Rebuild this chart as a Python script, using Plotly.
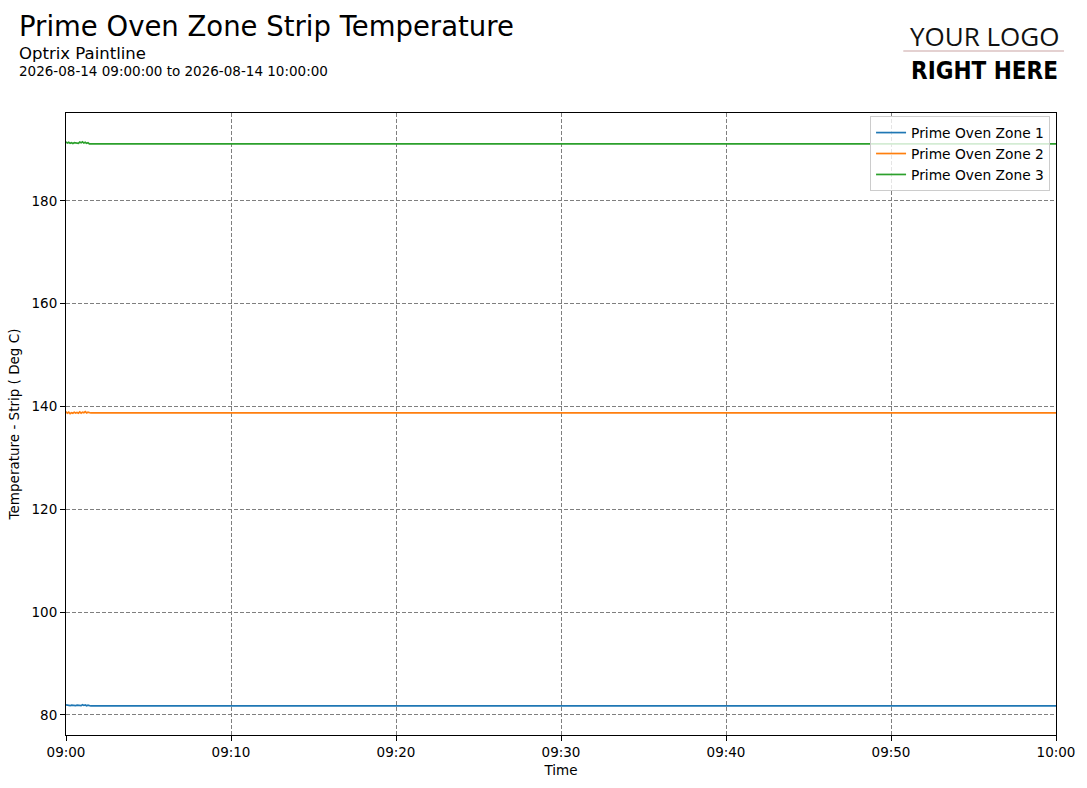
import plotly.graph_objects as go

# sample times (first minute and a half is noisy, then the signal holds flat)
times = ["2026-08-14 09:00:00", "2026-08-14 09:00:05", "2026-08-14 09:00:10",
         "2026-08-14 09:00:15", "2026-08-14 09:00:20", "2026-08-14 09:00:25",
         "2026-08-14 09:00:30", "2026-08-14 09:00:35", "2026-08-14 09:00:40",
         "2026-08-14 09:00:45", "2026-08-14 09:00:50", "2026-08-14 09:00:55",
         "2026-08-14 09:01:00", "2026-08-14 09:01:05", "2026-08-14 09:01:10",
         "2026-08-14 09:01:15", "2026-08-14 09:01:20", "2026-08-14 09:01:25",
         "2026-08-14 09:01:30", "2026-08-14 09:01:35", "2026-08-14 10:00:00"]

zone1 = [81.95, 81.85, 81.9, 81.8, 81.9, 81.85, 81.95, 81.8, 81.9, 81.85,
         81.9, 81.8, 82.0, 81.85, 81.95, 81.8, 81.9, 81.75, 81.75, 81.75, 81.75]
zone2 = [139.0, 138.7, 138.9, 138.6, 138.8, 138.7, 138.9, 138.75, 138.85, 138.7,
         138.95, 138.7, 138.9, 138.8, 139.0, 138.75, 138.9, 138.75, 138.75, 138.75, 138.75]
zone3 = [191.5, 191.25, 191.4, 191.2, 191.3, 191.15, 191.35, 191.25, 191.3, 191.2,
         191.45, 191.3, 191.5, 191.25, 191.4, 191.2, 191.3, 191.1, 191.1, 191.1, 191.1]

names = ["Prime Oven Zone 1", "Prime Oven Zone 2", "Prime Oven Zone 3"]
colors = ["#1f77b4", "#ff7f0e", "#2ca02c"]

W, H = 1087, 788
L, R, T, B = 66, 1058, 113, 735


def px(x):
    # screen x -> paper
    return (x - L) / (R - L)


def py(y):
    return (B - y) / (B - T)


fig = go.Figure()
for name, vals, c in zip(names, [zone1, zone2, zone3], colors):
    fig.add_trace(go.Scatter(x=times, y=vals, name=name, mode="lines",
                             line=dict(color=c, width=1.7)))

axis_common = dict(showline=True, linecolor="black", linewidth=1, mirror=True,
                   ticks="outside", ticklen=5, tickcolor="black",
                   showgrid=True, gridcolor="#7f7f7f", griddash="4px,2px", gridwidth=1,
                   zeroline=False, tickfont=dict(size=13.5, color="black"))

fig.update_xaxes(range=["2026-08-14 09:00:00", "2026-08-14 10:00:00"],
                 dtick=600000, tickformat="%H:%M",
                 title=dict(text="Time", font=dict(size=13.5, color="black"), standoff=6),
                 **axis_common)
fig.update_yaxes(range=[76.1, 197.1], dtick=20,
                 title=dict(text="Temperature - Strip ( Deg C)", font=dict(size=13.5, color="black"), standoff=8),
                 **axis_common)

fig.add_annotation(text="Prime Oven Zone Strip Temperature", x=px(17), y=py(26),
                   xref="paper", yref="paper", xanchor="left", yanchor="middle",
                   showarrow=False, font=dict(size=27.5, color="black"))
fig.add_annotation(text="Optrix Paintline", x=px(17), y=py(54),
                   xref="paper", yref="paper", xanchor="left", yanchor="middle",
                   showarrow=False, font=dict(size=16.5, color="black"))
fig.add_annotation(text="2026-08-14 09:00:00 to 2026-08-14 10:00:00", x=px(17), y=py(71),
                   xref="paper", yref="paper", xanchor="left", yanchor="middle",
                   showarrow=False, font=dict(size=13.5, color="black"))

# logo placeholder
fig.add_annotation(text="YOUR LOGO", x=px(986), y=py(36),
                   xref="paper", yref="paper", xanchor="center", yanchor="middle",
                   showarrow=False, font=dict(size=26, color="#111111", family="Open Sans"))
fig.add_annotation(text="<b>RIGHT HERE</b>", x=px(986), y=py(71),
                   xref="paper", yref="paper", xanchor="center", yanchor="middle",
                   showarrow=False,
                   font=dict(size=24, color="black",
                             family="DejaVu Sans Condensed, Liberation Sans Narrow, Roboto"))
fig.add_shape(type="line", xref="paper", yref="paper", x0=px(905), x1=px(1066),
              y0=py(51), y1=py(51), line=dict(color="#c9a3a3", width=1))

fig.update_layout(
    width=W, height=H,
    margin=dict(l=L, r=W - R, t=T, b=H - B),
    paper_bgcolor="white", plot_bgcolor="white",
    font=dict(family="DejaVu Sans", color="black"),
    showlegend=True,
    legend=dict(x=0.994, y=0.995, xanchor="right", yanchor="top",
                bgcolor="rgba(255,255,255,0.8)", bordercolor="#cccccc", borderwidth=1,
                font=dict(size=13.8), itemwidth=30, tracegroupgap=0),
)

# drop the default page margin so the figure sits at the window's corner
fig.write_html("out.html", config={"displayModeBar": False},
               post_script="document.body.style.margin='0';"
                           "document.body.style.overflow='hidden';")
